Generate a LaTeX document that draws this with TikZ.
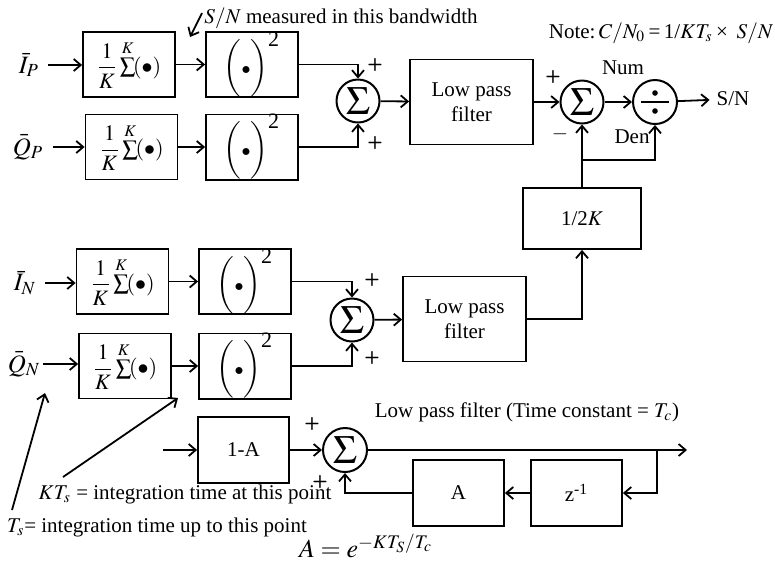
\documentclass[tikz,border=0pt]{standalone}
\usepackage{amsmath}
\usepackage{mathptmx}
\usepackage[no-math]{fontspec}
\setmainfont{Liberation Serif}
\usetikzlibrary{arrows.meta}
\newcommand{\avgsum}{{\fontsize{11}{13}\selectfont$\dfrac{1}{K}\sum\limits^{K}\!(\bullet)$}}
\newcommand{\sqdot}{{\fontsize{12}{14}\selectfont$\biggl({\scriptstyle\bullet}\biggr)^{\text{\fontsize{11}{13}\selectfont 2}}$}}
\begin{document}
\begin{tikzpicture}[x=0.5pt, y=-0.5pt,
  every node/.style={font=\fontsize{10.5}{12.6}\selectfont},
  blk/.style={draw, line width=0.9pt, inner sep=0pt, minimum width=46pt, minimum height=32.5pt, align=center},
  lpf/.style={blk, minimum width=61.5pt, minimum height=42.5pt},
  fbk/.style={blk, minimum width=45.5pt, minimum height=33pt},
  sumc/.style={circle, draw, line width=1pt, inner sep=0pt, minimum size=21.5pt, font=\fontsize{20}{20}\selectfont},
  sgn/.style={font=\sffamily\bfseries\small, inner sep=0pt},
  inp/.style={font=\fontsize{12.5}{14}\selectfont, inner sep=1pt},
  arr/.style={-{Straight Barb[length=3.5pt,width=6pt]}, line width=0.9pt},
  inarr/.style={arr, shorten <=3.5pt},
  ln/.style={line width=0.9pt}
]
\useasboundingbox (0,0) rectangle (775,564);
% Signal branch (P)
\node[inp] (lblIP) at (29,65) {$\bar{I}_P$};
\node[inp] (lblQP) at (28,147) {$\bar{Q}_P$};
\node[blk] (avgIP) at (129,64.5) {\avgsum};
\node[blk] (sqIP) at (252,64.5) {\sqdot};
\node[blk] (avgQP) at (131.5,147) {\avgsum};
\node[blk] (sqQP) at (252,147) {\sqdot};
\node[sumc] (sum1) at (358,101) {$\Sigma$};
\node[lpf] (lpfP) at (471.5,102) {Low pass\\filter};
\node[sumc] (sum2) at (582,102) {$\Sigma$};
\node[sumc, minimum size=22pt] (div) at (655,102) {};
\node (SN) at (733,99) {S/N};
\node (num) at (623,68) {Num};
\node (den) at (632,137) {Den};
% Noise branch (N)
\node[inp] (lblIN) at (25,283) {$\bar{I}_N$};
\node[inp] (lblQN) at (24,364) {$\bar{Q}_N$};
\node[blk] (avgIN) at (122.5,281.5) {\avgsum};
\node[blk] (sqIN) at (245,281.5) {\sqdot};
\node[blk] (avgQN) at (125,366) {\avgsum};
\node[blk] (sqQN) at (245,366) {\sqdot};
\node[sumc] (sum3) at (352,320) {$\Sigma$};
\node[lpf] (lpfN) at (464.5,319) {Low pass\\filter};
\node[blk, minimum width=59pt, minimum height=30.5pt] (halfK) at (582,218.5) {1/2$K$};
\coordinate (brD) at (582,160);
% Low pass filter detail
\coordinate (inA) at (163,450);
\node[fbk] (oneA) at (243.5,450) {1-A};
\node[sumc, minimum size=22pt] (sum4) at (345,450) {$\Sigma$};
\coordinate (outLP) at (687,450);
\coordinate (brZ) at (657,450);
\node[fbk] (zbox) at (576.5,493) {z\textsuperscript{-1}};
\node[fbk] (abox) at (458.5,493) {A};
\node (lblLP) at (527,412) {Low pass filter (Time constant = $T_c$)};
\node[font=\fontsize{13}{15}\selectfont] (lblA) at (366,546) {$A=e^{-KT_S/T_c}$};
% Notes
\node[inner sep=1pt] (lblBW) at (341,18) {$S/N$ measured in this bandwidth};
\node[inner sep=1pt] (lblNote) at (661,33) {Note:\,$C/N_0$\,=\,1/$KT_s$\,×\, $S/N$};
\node[inner sep=1pt] (lblKT) at (185,494) {$KT_s$ = integration time at this point};
\node[inner sep=1pt] (lblTs) at (157,527) {$T_s$= integration time up to this point};
\coordinate (bwTail) at (202,13);
\coordinate (bwTip) at (190,37);
\coordinate (ktTail) at (63,477);
\coordinate (ktTip) at (178,398);
\coordinate (tsTail) at (12,510);
\coordinate (tsTip) at (45,393);
% Signs
\foreach \p [count=\i] in {(375,65),(375,143),(372,280),(372,358),(312,424),(320,482),(553,77)}
  \node[sgn] (plus\i) at \p {+};
\node[inner sep=0pt] (minus) at (560,134) {$-$};
% Division symbol
\draw[line width=1pt] ([xshift=-7pt]div.center) -- ([xshift=7pt]div.center);
\fill ([yshift=4.5pt]div.center) circle (1.4pt);
\fill ([yshift=-4.5pt]div.center) circle (1.4pt);
% Connections, P
\draw[inarr] (lblIP.east) -- (lblIP.east -| avgIP.west);
\draw[inarr] (lblQP.east) -- (lblQP.east -| avgQP.west);
\draw[arr] (avgIP) -- (sqIP);
\draw[arr] (avgQP) -- (sqQP);
\draw[arr] (sqIP.east) -| (sum1.north);
\draw[arr] (sqQP.east) -| (sum1.south);
\draw[arr] (sum1) -- (lpfP);
\draw[arr] (lpfP) -- (sum2);
\draw[arr] (sum2) -- (div);
\draw[arr] (div) -- (SN);
\draw[arr] (halfK.north) -- (sum2.south);
\draw[arr] (brD) -| (div.south);
% Connections, N
\draw[inarr] (lblIN.east) -- (lblIN.east -| avgIN.west);
\draw[arr] (lblQN.east) -- (lblQN.east -| avgQN.west);
\draw[arr] (avgIN) -- (sqIN);
\draw[arr] (avgQN) -- (sqQN);
\draw[arr] (sqIN.east) -| (sum3.north);
\draw[arr] (sqQN.east) -| (sum3.south);
\draw[arr] (sum3) -- (lpfN);
\draw[arr] (lpfN.east) -| (halfK.south);
% Connections, filter
\draw[arr] (inA) -- (oneA);
\draw[arr] (oneA) -- (sum4);
\draw[arr] (sum4) -- (outLP);
\draw[arr] (brZ) |- (zbox.east);
\draw[arr] (zbox) -- (abox);
\draw[arr] (abox.west) -| (sum4.south);
% Pointers
\draw[arr] (bwTail) -- (bwTip);
\draw[arr] (ktTail) -- (ktTip);
\draw[arr] (tsTail) -- (tsTip);
\end{tikzpicture}
\end{document}
